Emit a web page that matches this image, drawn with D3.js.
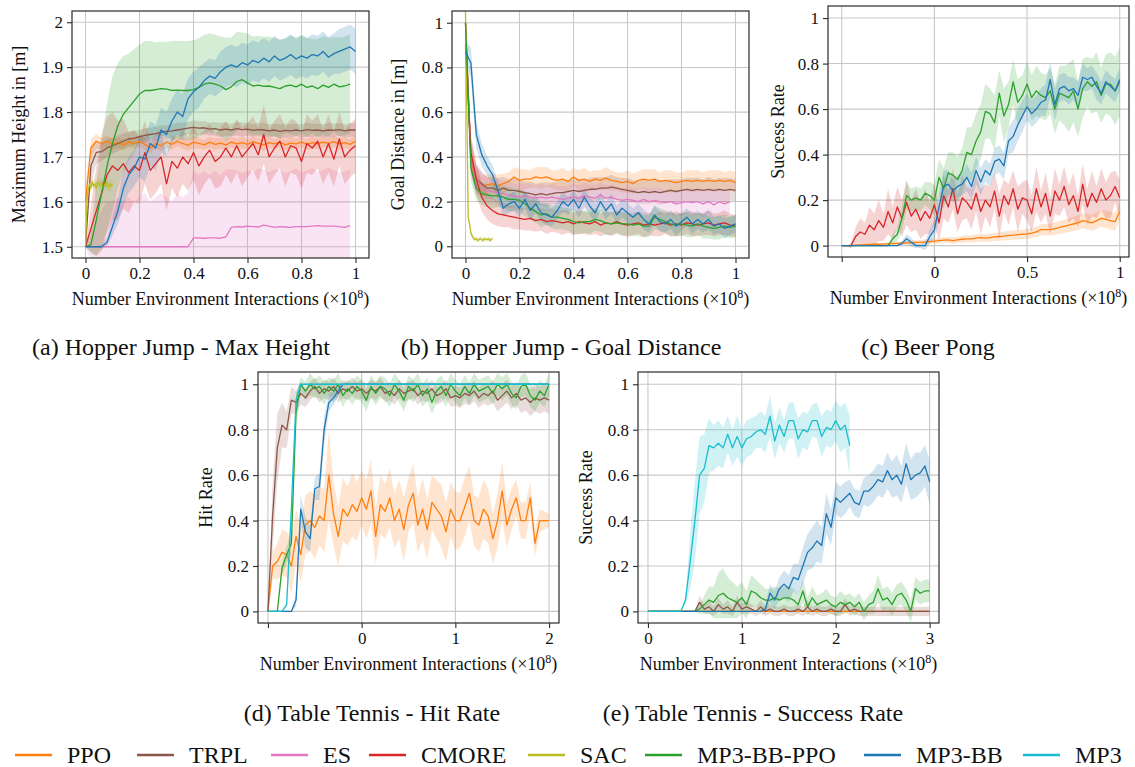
<!DOCTYPE html>
<html>
<head>
<meta charset="utf-8">
<script src="https://cdn.jsdelivr.net/npm/d3@7"></script>
<style>
  body { margin: 0; background: #fff; }
  text { font-family: "Liberation Serif", "DejaVu Serif", serif; fill: #111; }
</style>
</head>
<body>
<svg id="chart" width="1135" height="767"></svg>
<script>
// ---------- data ----------
const methods = ['PPO', 'TRPL', 'ES', 'CMORE', 'SAC', 'MP3-BB-PPO', 'MP3-BB', 'MP3'];
const colors = ['#ff7f0e', '#8c564b', '#e377c2', '#d62728', '#bcbd22', '#2ca02c', '#1f77b4', '#17becf'];

// sampling grids (x in 1e8 interactions)
const xA = d3.range(0, 1.0001, 0.02);
const xSAC = d3.range(0, 0.1001, 0.005);
const xC = d3.range(-0.5, 1.0001, 0.025);
const xD = d3.range(-1, 2.0001, 0.05);
const xE = d3.range(0, 3.0001, 0.05);

// (a) Hopper Jump - max height
const aPPO = [1.60,1.72,1.735,1.73,1.735,1.728,1.732,1.727,1.733,1.73,1.735,1.728,1.72,1.73,1.725,1.733,1.728,1.735,1.73,1.726,1.733,1.73,1.727,1.733,1.728,1.731,1.727,1.733,1.729,1.732,1.728,1.734,1.73,1.727,1.732,1.729,1.733,1.727,1.731,1.729,1.733,1.728,1.732,1.729,1.733,1.73,1.734,1.729,1.732,1.728,1.735];
const aPPOsd = [0.04,0.02,0.016,0.013,0.012,0.012,0.011,0.013,0.012,0.011,0.012,0.013,0.012,0.011,0.012,0.013,0.012,0.011,0.012,0.012,0.013,0.012,0.011,0.012,0.013,0.012,0.011,0.012,0.012,0.013,0.012,0.011,0.012,0.013,0.012,0.011,0.012,0.012,0.013,0.012,0.011,0.012,0.013,0.012,0.011,0.012,0.012,0.013,0.012,0.012,0.012];
const aTRPL = [1.5,1.68,1.71,1.712,1.72,1.725,1.73,1.735,1.74,1.742,1.745,1.748,1.75,1.752,1.755,1.757,1.758,1.76,1.762,1.764,1.766,1.764,1.765,1.762,1.763,1.76,1.762,1.76,1.763,1.761,1.762,1.759,1.761,1.76,1.758,1.76,1.757,1.759,1.758,1.76,1.758,1.761,1.759,1.76,1.758,1.76,1.759,1.761,1.758,1.76,1.76];
const aTRPLsd = [0,0.04,0.025,0.02,0.02,0.018,0.018,0.017,0.016,0.016,0.015,0.016,0.015,0.016,0.015,0.014,0.015,0.016,0.015,0.014,0.015,0.016,0.015,0.014,0.015,0.016,0.015,0.014,0.015,0.016,0.015,0.014,0.015,0.016,0.015,0.014,0.015,0.016,0.015,0.014,0.015,0.016,0.015,0.014,0.015,0.016,0.015,0.014,0.015,0.015,0.015];
const aES = [1.5,1.5,1.5,1.5,1.5,1.5,1.5,1.5,1.5,1.5,1.5,1.5,1.5,1.5,1.5,1.5,1.5,1.5,1.5,1.5,1.52,1.52,1.519,1.52,1.52,1.519,1.522,1.543,1.545,1.544,1.546,1.545,1.544,1.548,1.546,1.543,1.545,1.544,1.543,1.545,1.545,1.545,1.546,1.547,1.546,1.546,1.546,1.545,1.543,1.547];
const aESsd = [0,0.03,0.06,0.08,0.1,0.1,0.11,0.1,0.11,0.1,0.11,0.12,0.1,0.11,0.12,0.11,0.1,0.12,0.11,0.12,0.15,0.14,0.15,0.14,0.15,0.14,0.15,0.13,0.125,0.12,0.125,0.12,0.13,0.125,0.12,0.13,0.125,0.12,0.125,0.13,0.12,0.125,0.13,0.12,0.125,0.13,0.125,0.12,0.125,0.125];
const aCMORE = [1.5,1.54,1.58,1.62,1.66,1.68,1.67,1.685,1.665,1.68,1.67,1.71,1.67,1.685,1.70,1.64,1.69,1.675,1.70,1.685,1.71,1.68,1.70,1.715,1.69,1.70,1.72,1.70,1.725,1.70,1.715,1.73,1.705,1.75,1.70,1.72,1.735,1.70,1.725,1.72,1.69,1.73,1.72,1.735,1.70,1.73,1.695,1.74,1.70,1.715,1.725];
const aCMOREsd = [0,0.05,0.1,0.13,0.13,0.12,0.11,0.1,0.09,0.08,0.075,0.07,0.065,0.065,0.06,0.06,0.06,0.065,0.06,0.06,0.06,0.065,0.06,0.06,0.06,0.065,0.06,0.06,0.06,0.065,0.06,0.06,0.06,0.065,0.06,0.06,0.06,0.065,0.06,0.06,0.06,0.065,0.06,0.06,0.06,0.065,0.06,0.06,0.06,0.06,0.06];
const aSAC = [1.5,1.6,1.625,1.64,1.63,1.645,1.635,1.64,1.63,1.645,1.64,1.635,1.645,1.63,1.64,1.635,1.645,1.63,1.64,1.635,1.64];
const aSACsd = [0,0.02,0.013,0.012,0.012,0.013,0.012,0.012,0.013,0.012,0.012,0.013,0.012,0.012,0.013,0.012,0.012,0.013,0.012,0.012,0.012];
const aBBPPO = [1.5,1.505,1.56,1.62,1.68,1.73,1.77,1.795,1.81,1.825,1.84,1.848,1.848,1.85,1.852,1.851,1.848,1.849,1.848,1.848,1.85,1.855,1.862,1.865,1.862,1.858,1.85,1.856,1.868,1.872,1.865,1.858,1.86,1.857,1.858,1.855,1.852,1.858,1.86,1.856,1.862,1.855,1.858,1.852,1.86,1.855,1.862,1.856,1.858,1.862];
const aBBPPOsd = [0,0.02,0.08,0.12,0.14,0.15,0.14,0.13,0.12,0.115,0.11,0.11,0.11,0.105,0.105,0.105,0.11,0.11,0.11,0.11,0.11,0.11,0.11,0.11,0.11,0.11,0.115,0.11,0.11,0.105,0.11,0.11,0.11,0.11,0.11,0.11,0.11,0.105,0.11,0.11,0.11,0.11,0.105,0.11,0.11,0.11,0.105,0.11,0.11,0.11];
const aBB = [1.5,1.5,1.5,1.5,1.51,1.545,1.58,1.63,1.66,1.675,1.70,1.695,1.73,1.72,1.76,1.75,1.78,1.80,1.79,1.83,1.845,1.855,1.87,1.88,1.875,1.89,1.9,1.905,1.9,1.91,1.905,1.915,1.91,1.92,1.912,1.925,1.915,1.92,1.928,1.918,1.925,1.92,1.928,1.925,1.935,1.922,1.93,1.935,1.94,1.945,1.935];
const aBBsd = [0,0,0,0.005,0.01,0.02,0.03,0.04,0.04,0.04,0.045,0.05,0.05,0.05,0.05,0.05,0.05,0.05,0.05,0.045,0.045,0.045,0.04,0.04,0.04,0.045,0.045,0.045,0.045,0.045,0.045,0.045,0.045,0.045,0.045,0.045,0.045,0.045,0.045,0.045,0.045,0.045,0.045,0.045,0.045,0.045,0.045,0.05,0.05,0.05,0.05];

// (b) Hopper Jump - goal distance
const bPPO = [1.0,0.38,0.30,0.27,0.275,0.28,0.27,0.28,0.29,0.31,0.295,0.30,0.30,0.31,0.305,0.31,0.30,0.295,0.30,0.29,0.31,0.295,0.30,0.29,0.30,0.295,0.305,0.295,0.29,0.285,0.29,0.28,0.295,0.30,0.295,0.30,0.29,0.295,0.29,0.285,0.29,0.295,0.29,0.295,0.29,0.295,0.29,0.295,0.29,0.295,0.285];
const bPPOsd = [0.02,0.06,0.05,0.045,0.045,0.045,0.05,0.045,0.04,0.045,0.05,0.045,0.04,0.045,0.05,0.045,0.04,0.045,0.05,0.045,0.04,0.045,0.05,0.045,0.04,0.045,0.05,0.045,0.04,0.045,0.05,0.045,0.04,0.045,0.05,0.045,0.04,0.045,0.05,0.045,0.04,0.045,0.05,0.045,0.04,0.045,0.05,0.045,0.04,0.045,0.045];
const bTRPL = [1.0,0.4,0.30,0.28,0.26,0.26,0.25,0.26,0.25,0.25,0.245,0.24,0.235,0.23,0.235,0.23,0.235,0.24,0.24,0.245,0.25,0.245,0.25,0.255,0.255,0.26,0.26,0.265,0.26,0.255,0.25,0.245,0.24,0.245,0.24,0.245,0.24,0.245,0.25,0.245,0.25,0.255,0.25,0.255,0.25,0.255,0.25,0.255,0.25,0.255,0.25];
const bTRPLsd = [0.02,0.07,0.06,0.055,0.05,0.05,0.055,0.05,0.05,0.055,0.05,0.05,0.055,0.05,0.05,0.055,0.05,0.05,0.055,0.05,0.05,0.055,0.05,0.05,0.055,0.05,0.05,0.055,0.05,0.05,0.055,0.05,0.05,0.055,0.05,0.05,0.055,0.05,0.05,0.055,0.05,0.05,0.055,0.05,0.05,0.055,0.05,0.05,0.055,0.05,0.05];
const bES = [0.95,0.4,0.3,0.27,0.25,0.245,0.24,0.235,0.23,0.225,0.22,0.225,0.22,0.215,0.22,0.215,0.22,0.215,0.21,0.215,0.22,0.215,0.225,0.22,0.215,0.23,0.215,0.22,0.21,0.205,0.21,0.205,0.2,0.21,0.2,0.205,0.2,0.195,0.2,0.19,0.195,0.2,0.195,0.2,0.19,0.2,0.185,0.2,0.19,0.2];
const bESsd = [0.05,0.08,0.07,0.06,0.06,0.055,0.06,0.055,0.06,0.055,0.06,0.055,0.06,0.055,0.06,0.055,0.06,0.055,0.06,0.055,0.06,0.055,0.06,0.055,0.06,0.055,0.06,0.055,0.06,0.055,0.06,0.055,0.06,0.055,0.06,0.055,0.06,0.055,0.06,0.055,0.06,0.055,0.06,0.055,0.06,0.055,0.06,0.055,0.06,0.055];
const bCMORE = [0.9,0.42,0.3,0.22,0.18,0.16,0.145,0.14,0.135,0.13,0.125,0.12,0.125,0.115,0.12,0.11,0.115,0.11,0.105,0.11,0.1,0.11,0.105,0.1,0.11,0.095,0.105,0.1,0.11,0.1,0.095,0.1,0.105,0.095,0.1,0.095,0.1,0.105,0.095,0.1,0.095,0.105,0.1,0.095,0.1,0.105,0.095,0.1,0.105,0.095,0.09];
const bCMOREsd = [0.05,0.08,0.07,0.065,0.06,0.06,0.055,0.055,0.05,0.055,0.05,0.05,0.055,0.05,0.05,0.055,0.05,0.05,0.055,0.05,0.05,0.055,0.05,0.05,0.055,0.05,0.05,0.055,0.05,0.05,0.055,0.05,0.05,0.055,0.05,0.05,0.055,0.05,0.05,0.055,0.05,0.05,0.055,0.05,0.05,0.055,0.05,0.05,0.055,0.05,0.05];
const bSAC = [1.05,0.6,0.13,0.1,0.06,0.045,0.035,0.03,0.035,0.025,0.03,0.035,0.03,0.025,0.035,0.03,0.03,0.035,0.025,0.03,0.035];
const bSACsd = [0,0.02,0.02,0.015,0.012,0.01,0.01,0.01,0.01,0.01,0.01,0.01,0.01,0.01,0.01,0.01,0.01,0.01,0.01,0.01,0.01];
const bBBPPO = [1.0,0.35,0.26,0.235,0.23,0.225,0.225,0.22,0.21,0.21,0.205,0.19,0.17,0.155,0.14,0.145,0.13,0.13,0.125,0.12,0.11,0.105,0.11,0.11,0.12,0.115,0.105,0.1,0.105,0.1,0.1,0.095,0.1,0.09,0.09,0.13,0.12,0.11,0.1,0.095,0.1,0.095,0.09,0.1,0.09,0.085,0.08,0.085,0.09,0.085,0.09];
const bBBPPOsd = [0.02,0.06,0.055,0.05,0.05,0.055,0.05,0.05,0.055,0.05,0.05,0.055,0.05,0.05,0.055,0.05,0.05,0.055,0.05,0.05,0.055,0.05,0.05,0.055,0.05,0.05,0.055,0.05,0.05,0.055,0.05,0.05,0.055,0.05,0.05,0.055,0.05,0.05,0.055,0.05,0.05,0.055,0.05,0.05,0.055,0.05,0.05,0.055,0.05,0.05,0.05];
const bBB = [0.87,0.82,0.5,0.41,0.36,0.32,0.25,0.17,0.19,0.2,0.17,0.21,0.16,0.19,0.15,0.14,0.13,0.16,0.2,0.18,0.21,0.17,0.22,0.18,0.15,0.2,0.16,0.19,0.14,0.17,0.15,0.13,0.15,0.12,0.1,0.14,0.11,0.1,0.12,0.09,0.11,0.13,0.1,0.12,0.1,0.12,0.09,0.1,0.08,0.09,0.1];
const bBBsd = [0.05,0.07,0.06,0.05,0.045,0.045,0.04,0.04,0.04,0.045,0.04,0.04,0.045,0.04,0.04,0.045,0.04,0.04,0.045,0.04,0.04,0.045,0.04,0.04,0.045,0.04,0.04,0.045,0.04,0.04,0.045,0.04,0.04,0.045,0.04,0.04,0.045,0.04,0.04,0.045,0.04,0.04,0.045,0.04,0.04,0.045,0.04,0.04,0.045,0.04,0.04];

// (c) Beer Pong
const cPPO = [0,0,0,0.002,0.003,0.004,0.005,0.006,0.006,0.007,0.008,0.009,0.01,0.011,0.012,0.013,0.014,0.015,0.016,0.018,0.02,0.022,0.024,0.025,0.022,0.025,0.028,0.03,0.03,0.033,0.035,0.033,0.035,0.038,0.04,0.042,0.045,0.046,0.048,0.05,0.052,0.055,0.06,0.07,0.07,0.07,0.075,0.08,0.085,0.09,0.095,0.1,0.11,0.105,0.1,0.11,0.12,0.115,0.11,0.105,0.15];
const cPPOsd = [0,0,0,0.002,0.003,0.004,0.005,0.005,0.006,0.006,0.007,0.007,0.008,0.008,0.009,0.009,0.01,0.01,0.011,0.011,0.012,0.012,0.013,0.013,0.014,0.014,0.015,0.015,0.016,0.016,0.017,0.017,0.018,0.018,0.019,0.019,0.02,0.02,0.021,0.021,0.022,0.022,0.023,0.024,0.025,0.026,0.027,0.028,0.029,0.03,0.031,0.032,0.033,0.034,0.035,0.036,0.037,0.038,0.039,0.04,0.04];
const cCMORE = [0,0,0,0.04,0.06,0.05,0.09,0.07,0.11,0.08,0.15,0.1,0.17,0.12,0.19,0.13,0.16,0.11,0.15,0.12,0.18,0.1,0.22,0.17,0.25,0.14,0.21,0.19,0.16,0.23,0.15,0.2,0.17,0.24,0.13,0.22,0.18,0.25,0.16,0.21,0.2,0.14,0.25,0.17,0.23,0.13,0.24,0.2,0.26,0.18,0.22,0.15,0.27,0.17,0.23,0.19,0.25,0.2,0.22,0.26,0.21];
const cCMOREsd = [0,0,0.01,0.04,0.06,0.05,0.08,0.07,0.09,0.06,0.1,0.07,0.09,0.08,0.1,0.07,0.09,0.08,0.1,0.07,0.09,0.08,0.1,0.07,0.09,0.08,0.1,0.07,0.09,0.08,0.1,0.07,0.09,0.08,0.1,0.07,0.09,0.08,0.1,0.07,0.09,0.08,0.1,0.07,0.09,0.08,0.1,0.07,0.09,0.08,0.1,0.07,0.09,0.08,0.1,0.07,0.09,0.08,0.1,0.07,0.08];
const cBBPPO = [0,0,0,0,0,0,0,0,0,0,0,0.03,0.05,0.12,0.22,0.2,0.21,0.2,0.23,0.22,0.2,0.3,0.25,0.32,0.31,0.29,0.33,0.41,0.4,0.46,0.5,0.59,0.58,0.54,0.67,0.57,0.62,0.72,0.63,0.66,0.71,0.65,0.68,0.66,0.65,0.68,0.6,0.67,0.66,0.65,0.68,0.6,0.69,0.72,0.7,0.72,0.66,0.71,0.71,0.68,0.72];
const cBBPPOsd = [0,0,0,0,0,0,0,0,0,0,0,0.02,0.03,0.06,0.06,0.05,0.05,0.05,0.05,0.06,0.07,0.08,0.09,0.09,0.1,0.1,0.1,0.11,0.12,0.12,0.12,0.12,0.11,0.12,0.1,0.12,0.1,0.1,0.1,0.09,0.1,0.1,0.11,0.1,0.1,0.1,0.11,0.12,0.13,0.15,0.14,0.12,0.13,0.11,0.12,0.13,0.12,0.13,0.14,0.15,0.15];
const cBB = [0,0,0,0,0,0,0,0,0,0,0,0,0,0.01,0.03,0.015,0,0,0,0.04,0.07,0.17,0.26,0.27,0.24,0.26,0.27,0.3,0.26,0.33,0.28,0.33,0.31,0.37,0.38,0.35,0.46,0.48,0.53,0.57,0.61,0.58,0.6,0.63,0.64,0.73,0.62,0.69,0.7,0.68,0.69,0.66,0.74,0.73,0.74,0.7,0.67,0.72,0.7,0.68,0.73];
const cBBsd = [0,0,0,0,0,0,0,0,0,0,0,0,0,0.01,0.02,0.02,0.01,0.01,0.02,0.03,0.04,0.06,0.07,0.06,0.05,0.05,0.05,0.06,0.06,0.06,0.06,0.05,0.05,0.06,0.06,0.06,0.06,0.07,0.07,0.07,0.06,0.06,0.06,0.06,0.07,0.08,0.07,0.06,0.06,0.06,0.05,0.06,0.06,0.05,0.05,0.06,0.05,0.05,0.05,0.05,0.05];

// (d) Table Tennis - hit rate
const dPPO = [0,0.2,0.22,0.26,0.25,0.2,0.33,0.25,0.38,0.4,0.37,0.42,0.4,0.6,0.43,0.33,0.45,0.42,0.47,0.44,0.5,0.45,0.53,0.33,0.47,0.44,0.5,0.4,0.45,0.36,0.47,0.52,0.38,0.45,0.36,0.48,0.45,0.42,0.35,0.45,0.4,0.4,0.46,0.52,0.4,0.38,0.45,0.42,0.32,0.4,0.53,0.38,0.45,0.5,0.4,0.4,0.5,0.3,0.4,0.4,0.4];
const dPPOsd = [0,0.06,0.08,0.1,0.1,0.12,0.12,0.12,0.13,0.13,0.14,0.13,0.14,0.2,0.14,0.13,0.14,0.13,0.14,0.13,0.12,0.13,0.14,0.12,0.13,0.12,0.13,0.12,0.13,0.14,0.12,0.13,0.12,0.14,0.13,0.12,0.13,0.14,0.13,0.12,0.13,0.12,0.13,0.12,0.11,0.12,0.13,0.12,0.11,0.12,0.13,0.1,0.09,0.08,0.08,0.08,0.07,0.06,0.05,0.04,0.03];
const dTRPL = [0,0.42,0.72,0.82,0.8,0.93,0.92,0.96,0.94,0.97,0.99,0.96,0.98,0.97,0.99,0.96,0.98,0.97,0.99,0.97,0.98,0.96,0.98,0.97,0.99,0.96,0.97,0.95,0.98,0.96,0.97,0.98,0.95,0.97,0.96,0.98,0.95,0.96,0.98,0.94,0.95,0.94,0.96,0.95,0.97,0.94,0.96,0.95,0.97,0.93,0.95,0.97,0.94,0.96,0.93,0.94,0.92,0.94,0.93,0.94,0.93];
const dTRPLsd = [0,0.15,0.15,0.1,0.08,0.06,0.05,0.05,0.04,0.04,0.04,0.04,0.04,0.04,0.04,0.04,0.04,0.04,0.04,0.04,0.04,0.04,0.04,0.04,0.04,0.04,0.04,0.04,0.04,0.04,0.04,0.04,0.04,0.04,0.04,0.04,0.04,0.04,0.04,0.04,0.045,0.045,0.045,0.045,0.045,0.045,0.045,0.045,0.05,0.05,0.05,0.05,0.05,0.05,0.055,0.055,0.06,0.06,0.06,0.06,0.06];
const dBBPPO = [0,0,0,0.19,0.25,0.3,0.88,1.0,0.97,1.0,0.98,0.99,0.96,0.99,0.97,1.0,0.95,0.98,0.96,0.99,0.97,0.93,0.99,0.96,0.99,0.98,0.95,1.0,0.97,0.93,0.99,0.97,1.0,0.95,0.98,0.92,0.97,0.99,0.95,1.0,0.97,0.95,0.99,0.96,1.0,0.97,0.98,0.99,0.96,1.0,0.98,1.0,0.96,0.94,0.99,1.0,0.95,0.93,0.97,0.95,1.0];
const dBBPPOsd = [0,0,0,0.03,0.04,0.05,0.08,0.03,0.04,0.05,0.04,0.05,0.05,0.04,0.05,0.05,0.05,0.04,0.05,0.05,0.05,0.05,0.05,0.05,0.05,0.05,0.05,0.05,0.05,0.05,0.05,0.05,0.05,0.05,0.05,0.05,0.05,0.05,0.05,0.05,0.05,0.05,0.05,0.05,0.05,0.05,0.05,0.05,0.05,0.05,0.05,0.05,0.05,0.05,0.05,0.05,0.05,0.05,0.05,0.05,0.05];
const dBB = [0,0,0,0,0,0,0.05,0.45,0.35,0.32,0.54,0.55,0.8,0.92,0.94,0.97,1,1,1,1,1,1,1,1,1,1,1,1,1,1,1,1,1,1,1,1,1,1,1,1,1,1,1,1,1,1,1,1,1,1,1,1,1,1,1,1,1,1,1,1,1];
const dBBsd = [0,0,0,0,0,0,0.03,0.06,0.07,0.06,0.05,0.06,0.06,0.04,0.03,0.02,0];
const dMP3 = [0,0,0,0,0.03,0.45,0.93,1,1,1,1,1,1,1,1,1,1,1,1,1,1,1,1,1,1,1,1,1,1,1,1,1,1,1,1,1,1,1,1,1,1,1,1,1,1,1,1,1,1,1,1,1,1,1,1,1,1,1,1,1,1];
const dMP3sd = [0,0,0,0,0.01,0.04,0.03,0];

// (e) Table Tennis - success rate
const ePPO = [0,0,0,0,0,0,0,0,0,0,0,0,0,0,0,0,0,0,0,0,0,0,0,0,0,0,0,0,0,0,0,0,0,0,0,0,0,0,0,0,0,0,0,0,0,0,0,0,0,0,0,0,0,0,0,0,0,0,0,0,0];
const ePPOsd = [0.003];
const eTRPL = [0,0,0,0,0,0,0,0,0,0,0,0.04,0.01,0.02,0,0.03,0.01,0.02,0,0.04,0.01,0.02,0.01,0,0.02,0,0.01,0,0,0.01,0,0,0.01,0,0.02,0,0.01,0,0,0.01,0,0,0.03,0,0.01,0,0,0,0,0,0,0,0,0,0,0,0,0,0,0,0];
const eTRPLsd = [0,0,0,0,0,0,0,0,0,0,0,0.03,0.02,0.03,0.02,0.03,0.02,0.03,0.02,0.03,0.02,0.03,0.02,0.02,0.03,0.02,0.02,0.02,0.02,0.02,0.02,0.02,0.02,0.02,0.03,0.02,0.02,0.02,0.02,0.02,0.02,0.02,0.03,0.02,0.02,0.02,0.02,0.02,0.02,0.02,0.02,0.02,0.02,0.02,0.02,0.02,0.02,0.02,0.02,0.02,0.02];
const eBBPPO = [0,0,0,0,0,0,0,0,0,0,0,0.01,0.03,0.05,0.04,0.07,0.08,0.06,0.05,0.04,0.06,0.03,0.09,0.08,0.06,0.05,0.05,0.06,0.05,0.06,0.06,0.05,0.03,0.09,0.02,0.06,0.03,0.04,0.05,0.03,0.02,0.04,0.03,0.04,0.02,0.04,0,0.03,0.04,0.1,0.05,0.06,0.03,0.07,0.08,0.05,0,0.1,0.08,0.09,0.09];
const eBBPPOsd = [0,0,0,0,0,0,0,0,0,0,0,0.02,0.04,0.06,0.07,0.1,0.11,0.09,0.08,0.07,0.07,0.06,0.07,0.06,0.06,0.05,0.05,0.05,0.05,0.05,0.05,0.05,0.04,0.05,0.04,0.05,0.04,0.04,0.05,0.04,0.04,0.05,0.04,0.04,0.04,0.04,0.04,0.04,0.05,0.06,0.05,0.05,0.05,0.05,0.05,0.05,0.05,0.05,0.05,0.05,0.05];
const eBB = [0,0,0,0,0,0,0,0,0,0,0,0,0,0,0,0,0,0,0,0,0,0,0,0,0,0.01,0.08,0.05,0.1,0.12,0.1,0.15,0.14,0.2,0.26,0.28,0.31,0.29,0.43,0.37,0.5,0.48,0.5,0.52,0.48,0.47,0.53,0.53,0.55,0.58,0.57,0.62,0.58,0.6,0.56,0.65,0.58,0.6,0.61,0.64,0.57];
const eBBsd = [0,0,0,0,0,0,0,0,0,0,0,0,0,0,0,0,0,0,0,0,0,0,0,0,0,0.02,0.04,0.04,0.05,0.06,0.06,0.06,0.07,0.08,0.08,0.09,0.09,0.08,0.09,0.08,0.07,0.07,0.07,0.06,0.06,0.06,0.06,0.07,0.07,0.07,0.07,0.08,0.08,0.09,0.08,0.09,0.09,0.1,0.09,0.09,0.1];
const eMP3 = [0,0,0,0,0,0,0,0,0.05,0.22,0.4,0.6,0.63,0.73,0.72,0.74,0.72,0.78,0.72,0.77,0.72,0.76,0.77,0.79,0.8,0.78,0.86,0.75,0.82,0.77,0.84,0.84,0.76,0.8,0.79,0.84,0.84,0.77,0.81,0.8,0.84,0.8,0.82,0.73];
const eMP3sd = [0,0,0,0,0,0,0,0,0.02,0.12,0.18,0.17,0.15,0.12,0.1,0.1,0.09,0.08,0.08,0.09,0.08,0.08,0.08,0.07,0.08,0.08,0.09,0.08,0.08,0.07,0.08,0.08,0.09,0.08,0.08,0.07,0.08,0.09,0.08,0.08,0.09,0.1,0.1,0.13];

// ticks
const tickUnit = [0, 0.2, 0.4, 0.6, 0.8, 1];
const tickUnitLabels = ['0', '0.2', '0.4', '0.6', '0.8', '1'];
const tickHeight = [1.5, 1.6, 1.7, 1.8, 1.9, 2];
const tickHeightLabels = ['1.5', '1.6', '1.7', '1.8', '1.9', '2'];
const tickBeer = [-0.5, 0, 0.5, 1];
const tickBeerLabels = ['', '0', '0.5', '1'];
const tickHit = [-1, 0, 1, 2];
const tickHitLabels = ['', '0', '1', '2'];
const tickSucc = [0, 1, 2, 3];
const tickSuccLabels = ['0', '1', '2', '3'];

const xTitle = 'Number Environment Interactions (×10';

// ---------- drawing ----------
const svg = d3.select('#chart');
const colorOf = d3.scaleOrdinal().domain(methods).range(colors);

const panels = [
  { id: 'a', box: [72, 11, 369, 258], xDom: [-0.05, 1.05], yDom: [1.475, 2.025],
    xT: tickUnit, xL: tickUnitLabels, yT: tickHeight, yL: tickHeightLabels,
    ylab: 'Maximum Height in [m]', ylabX: 19, cap: '(a) Hopper Jump - Max Height', capX: 181, capY: 355,
    series: [['PPO', xA, aPPO, aPPOsd], ['TRPL', xA, aTRPL, aTRPLsd], ['ES', xA, aES, aESsd],
             ['CMORE', xA, aCMORE, aCMOREsd], ['SAC', xSAC, aSAC, aSACsd],
             ['MP3-BB-PPO', xA, aBBPPO, aBBPPOsd], ['MP3-BB', xA, aBB, aBBsd]] },
  { id: 'b', box: [452, 11, 749, 258], xDom: [-0.05, 1.05], yDom: [-0.0525, 1.0525],
    xT: tickUnit, xL: tickUnitLabels, yT: tickUnit, yL: tickUnitLabels,
    ylab: 'Goal Distance in [m]', ylabX: 398, cap: '(b) Hopper Jump - Goal Distance', capX: 561, capY: 355,
    series: [['PPO', xA, bPPO, bPPOsd], ['TRPL', xA, bTRPL, bTRPLsd], ['ES', xA, bES, bESsd],
             ['CMORE', xA, bCMORE, bCMOREsd], ['SAC', xSAC, bSAC, bSACsd],
             ['MP3-BB-PPO', xA, bBBPPO, bBBPPOsd], ['MP3-BB', xA, bBB, bBBsd]] },
  { id: 'c', box: [828, 6, 1129, 257], xDom: [-0.574, 1.05], yDom: [-0.05, 1.053],
    xT: tickBeer, xL: tickBeerLabels, yT: tickUnit, yL: tickUnitLabels,
    ylab: 'Success Rate', ylabX: 778, cap: '(c) Beer Pong', capX: 928, capY: 355,
    series: [['PPO', xC, cPPO, cPPOsd], ['CMORE', xC, cCMORE, cCMOREsd],
             ['MP3-BB-PPO', xC, cBBPPO, cBBPPOsd], ['MP3-BB', xC, cBB, cBBsd]] },
  { id: 'd', box: [258, 372, 559, 623], xDom: [-1.106, 2.106], yDom: [-0.051, 1.054],
    xT: tickHit, xL: tickHitLabels, yT: tickUnit, yL: tickUnitLabels,
    ylab: 'Hit Rate', ylabX: 206, cap: '(d) Table Tennis - Hit Rate', capX: 372, capY: 721,
    series: [['PPO', xD, dPPO, dPPOsd], ['TRPL', xD, dTRPL, dTRPLsd],
             ['MP3-BB-PPO', xD, dBBPPO, dBBPPOsd], ['MP3-BB', xD, dBB, dBBsd], ['MP3', xD, dMP3, dMP3sd]] },
  { id: 'e', box: [638, 372, 939, 623], xDom: [-0.106, 3.1], yDom: [-0.051, 1.054],
    xT: tickSucc, xL: tickSuccLabels, yT: tickUnit, yL: tickUnitLabels,
    ylab: 'Success Rate', ylabX: 586, cap: '(e) Table Tennis - Success Rate', capX: 753, capY: 721,
    series: [['PPO', xE, ePPO, ePPOsd], ['TRPL', xE, eTRPL, eTRPLsd],
             ['MP3-BB-PPO', xE, eBBPPO, eBBPPOsd], ['MP3-BB', xE, eBB, eBBsd], ['MP3', xE, eMP3, eMP3sd]] }
];

function toPoints(xs, ys, sds) {
  return ys.map((v, i) => ({ x: xs[i], y: v, sd: sds[Math.min(i, sds.length - 1)] }));
}

panels.forEach(p => {
  const [x0, y0, x1, y1] = p.box;
  const x = d3.scaleLinear().domain(p.xDom).range([x0, x1]);
  const y = d3.scaleLinear().domain(p.yDom).range([y1, y0]);
  const g = svg.append('g').attr('class', 'panel-' + p.id);

  g.append('clipPath').attr('id', 'clip-' + p.id)
    .append('rect').attr('x', x0).attr('y', y0).attr('width', x1 - x0).attr('height', y1 - y0);

  // grid
  g.selectAll('.gx').data(p.xT).enter().append('line')
    .attr('x1', d => x(d)).attr('x2', d => x(d)).attr('y1', y0).attr('y2', y1)
    .attr('stroke', '#c8c8c8').attr('stroke-width', 1.1);
  g.selectAll('.gy').data(p.yT).enter().append('line')
    .attr('y1', d => y(d)).attr('y2', d => y(d)).attr('x1', x0).attr('x2', x1)
    .attr('stroke', '#c8c8c8').attr('stroke-width', 1.1);

  const plot = g.append('g').attr('clip-path', 'url(#clip-' + p.id + ')');
  const area = d3.area().x(d => x(d.x)).y0(d => y(d.y - d.sd)).y1(d => y(d.y + d.sd));
  const line = d3.line().x(d => x(d.x)).y(d => y(d.y));

  p.series.forEach(s => {
    plot.append('path').datum(toPoints(s[1], s[2], s[3]))
      .attr('d', area).attr('fill', colorOf(s[0])).attr('fill-opacity', 0.2);
  });
  p.series.forEach(s => {
    plot.append('path').datum(toPoints(s[1], s[2], s[3]))
      .attr('d', line).attr('fill', 'none').attr('stroke', colorOf(s[0]))
      .attr('stroke-width', 1.3).attr('stroke-linejoin', 'round');
  });

  // frame
  g.append('rect').attr('x', x0).attr('y', y0).attr('width', x1 - x0).attr('height', y1 - y0)
    .attr('fill', 'none').attr('stroke', '#2a2a2a').attr('stroke-width', 1.2);

  // axes
  const ax = g.append('g').attr('transform', `translate(0,${y1})`)
    .call(d3.axisBottom(x).tickValues(p.xT).tickFormat((d, i) => p.xL[i]).tickSize(5).tickPadding(4).tickSizeOuter(0));
  const ay = g.append('g').attr('transform', `translate(${x0},0)`)
    .call(d3.axisLeft(y).tickValues(p.yT).tickFormat((d, i) => p.yL[i]).tickSize(5).tickPadding(4).tickSizeOuter(0));
  [ax, ay].forEach(a => {
    a.select('.domain').remove();
    a.selectAll('.tick line').attr('stroke', '#2a2a2a').attr('stroke-width', 1.1);
    a.selectAll('.tick text').attr('font-family', '"Liberation Serif", serif').attr('font-size', 17).attr('fill', '#111');
  });

  // axis titles
  const xt = g.append('text').attr('x', (x0 + x1) / 2).attr('y', y1 + 47)
    .attr('text-anchor', 'middle').attr('font-size', 18);
  xt.append('tspan').text(xTitle);
  xt.append('tspan').attr('font-size', 12).attr('dy', -7).text('8');
  xt.append('tspan').attr('dy', 7).text(')');

  g.append('text').attr('transform', `translate(${p.ylabX},${(y0 + y1) / 2}) rotate(-90)`)
    .attr('text-anchor', 'middle').attr('dy', '0.35em').attr('font-size', 18).text(p.ylab);

  // caption
  svg.append('text').attr('x', p.capX).attr('y', p.capY).attr('text-anchor', 'middle')
    .attr('font-size', 24).text(p.cap);
});

// legend (sample line start positions as in the figure)
const legendX = [15, 137, 271, 369, 528, 645, 864, 1023];
const leg = svg.append('g');
methods.forEach((m, i) => {
  const lx = legendX[i];
  leg.append('line').attr('x1', lx).attr('x2', lx + 37).attr('y1', 755).attr('y2', 755)
    .attr('stroke', colors[i]).attr('stroke-width', 2.6);
  leg.append('text').attr('x', lx + 52).attr('y', 763).attr('font-size', 24).text(m);
});
</script>
</body>
</html>
